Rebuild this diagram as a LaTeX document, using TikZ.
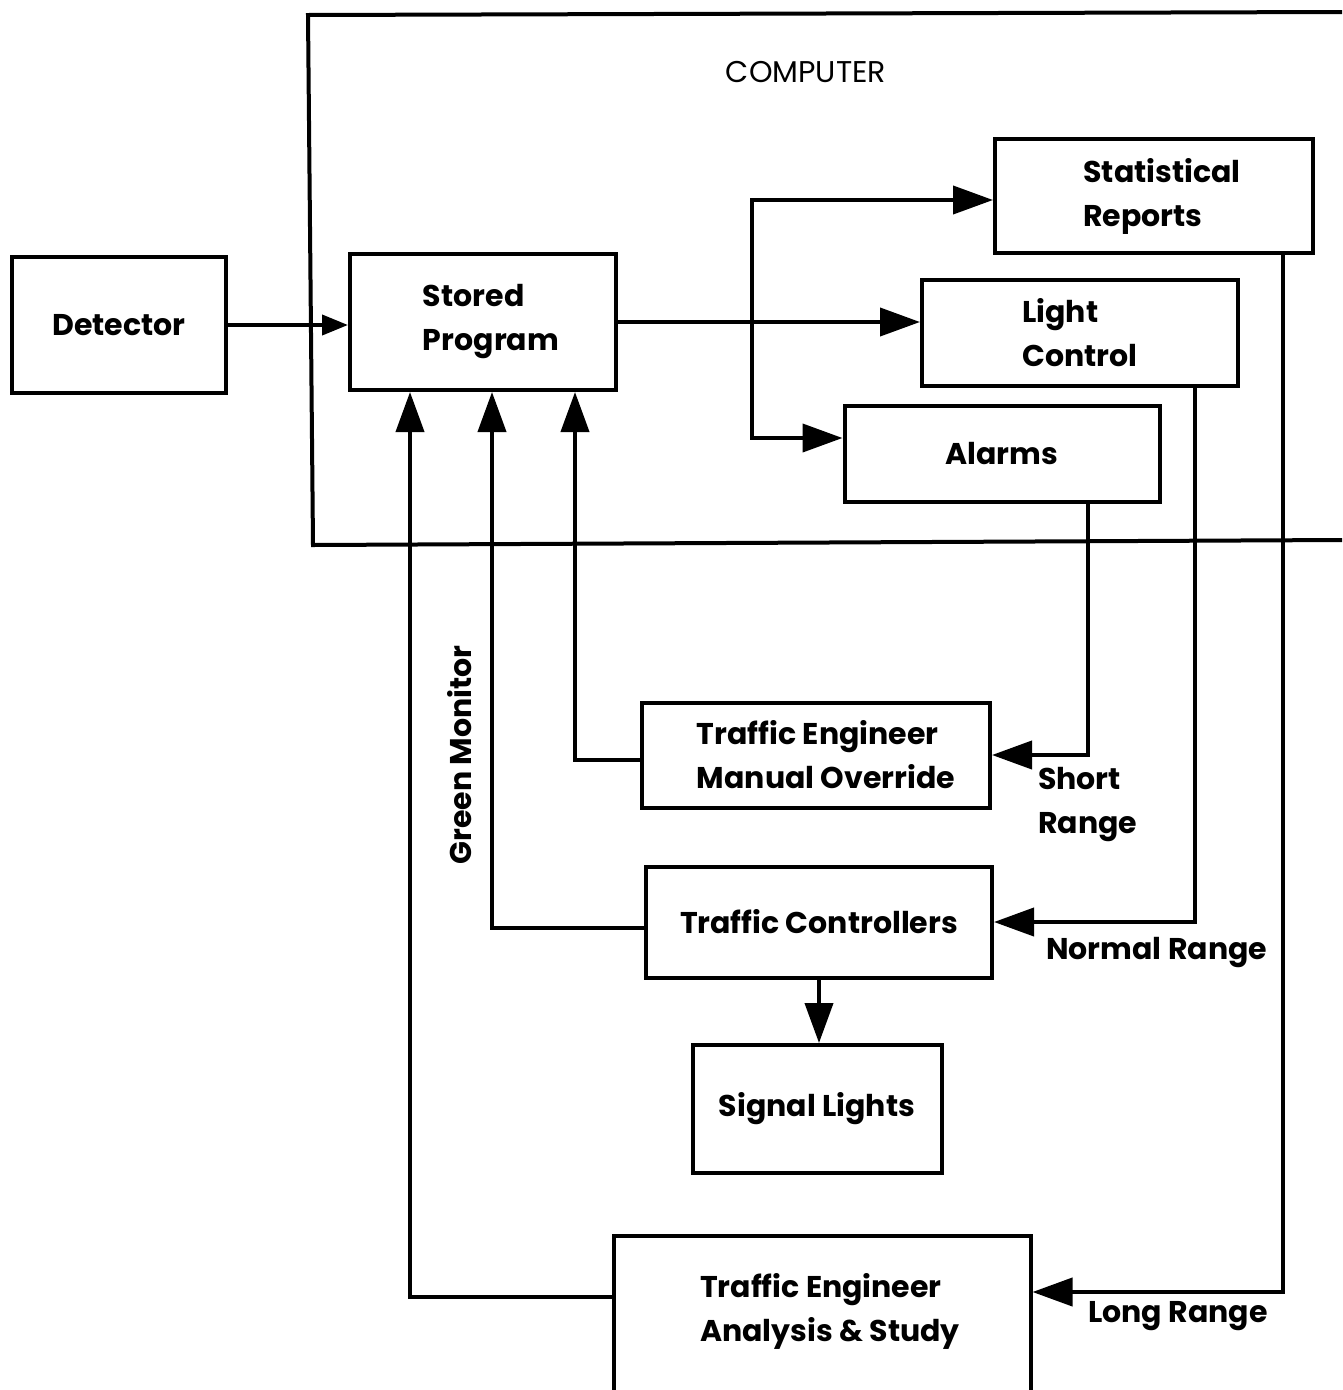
\documentclass[tikz,border=0pt]{standalone}
\usepackage{fontspec}
\setmainfont{Poppins}
\usetikzlibrary{arrows.meta}
\begin{document}
\begin{tikzpicture}[x=1pt,y=-1pt,
  every node/.style={font=\fontsize{30}{44}\selectfont\bfseries},
  box/.style={draw, line width=4pt, inner sep=0pt},
  wire/.style={line width=4pt},
  arr/.style={wire, -{Triangle[length=40pt,width=28pt]}},
  sarr/.style={wire, -{Triangle[length=26pt,width=20pt]}},
  lbl/.style={align=left, inner sep=0pt}]
\useasboundingbox (0,0) rectangle (1342,1390);
% computer frame
\draw[wire] (1342,12) -- (308,15) -- (313,545) -- (1342,540);
\node[font=\fontsize{30}{36}\selectfont\mdseries] (comp) at (806,72) {COMPUTER};
% boxes
\node[box, minimum width=214, minimum height=136] (det) at (119,325) {Detector};
\node[box, minimum width=266, minimum height=136] (sp) at (483,322) {};
\node[lbl] (sptext) at ([xshift=8]sp.center) {Stored\\Program};
\node[box, minimum width=318, minimum height=114] (stat) at (1154,196) {};
\node[lbl] (stattext) at ([xshift=8]stat.center) {Statistical\\Reports};
\node[box, minimum width=316, minimum height=106, align=left] (light) at (1080,333) {Light\\Control};
\node[box, minimum width=315, minimum height=96] (alarms) at (1002,454) {Alarms};
\node[box, minimum width=348, minimum height=105] (tem) at (816,755) {};
\node[lbl] (temtext) at ([xshift=10]tem.center) {Traffic Engineer\\Manual Override};
\node[box, minimum width=346, minimum height=111] (tc) at (819,922) {Traffic Controllers};
\node[box, minimum width=249, minimum height=128] (sl) at (817,1109) {Signal Lights};
\node[box, minimum width=417, minimum height=184] (ana) at (822,1328) {};
\node[lbl] (anatext) at ([xshift=8,yshift=17]ana.center) {Traffic Engineer\\Analysis \& Study};
% labels
\node[lbl, anchor=west] (short) at (1038,805) {Short\\Range};
\node[lbl, anchor=west] (normal) at (1046,953) {Normal Range};
\node[lbl, anchor=west] (long) at (1088,1316) {Long Range};
\node[rotate=90, inner sep=0pt] (green) at (460,755) {Green Monitor};
% connectors
\draw[sarr] (det.east) -- (det.east -| sp.west);
\draw[arr] (sp.east) -- (sp.east -| light.west);
\coordinate (j) at (752,322);
\draw[arr] (j) |- ([yshift=-4]stat.west);
\draw[arr] (j) |- ([yshift=16]alarms.west);
\draw[arr] ([xshift=86]alarms.south) |- (tem.east);
\draw[arr] ([xshift=115]light.south) |- (tc.east);
\draw[arr] ([xshift=129]stat.south) |- ([yshift=36]ana.east);
\draw[arr] ([yshift=-5]tem.west) -| ([xshift=92]sp.south);
\draw[arr] ([yshift=-6]tc.west) -| ([xshift=9]sp.south);
\draw[arr] ([yshift=31]ana.west) -| ([xshift=-73]sp.south);
\draw[arr] (tc.south) -- (tc.south |- sl.north);
\end{tikzpicture}
\end{document}
